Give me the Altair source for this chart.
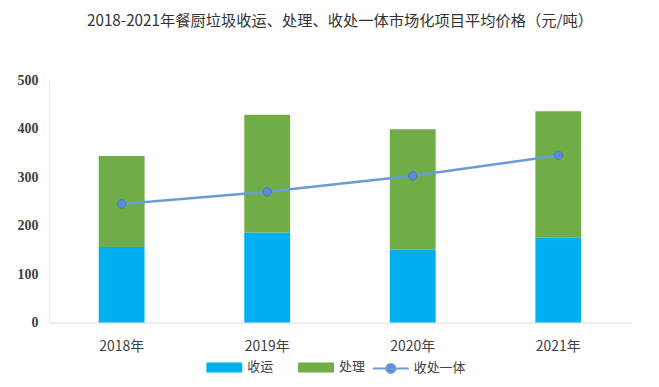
import altair as alt
import pandas as pd

years = ["2018年", "2019年", "2020年", "2021年"]
shouyun = [156, 186, 151, 175]
chuli = [188, 243, 248, 261]
yiti = [245, 270, 303, 345]
bar_series = ["收运", "处理"]
line_series = ["收处一体"]
y_ticks = [0, 100, 200, 300, 400, 500]
title_text = "2018-2021年餐厨垃圾收运、处理、收处一体市场化项目平均价格（元/吨）"

rows = []
for i, yr in enumerate(years):
    rows.append({"year": yr, "series": bar_series[0], "value": shouyun[i], "ord": 0})
    rows.append({"year": yr, "series": bar_series[1], "value": chuli[i], "ord": 1})
bars_df = pd.DataFrame(rows)
line_df = pd.DataFrame({"year": years, "series": line_series[0], "value": yiti})

FONT = "Noto Sans CJK SC"
SERIF = "Liberation Serif, Times New Roman, serif"

x_enc = alt.X(
    "year:N", sort=years, title=None,
    scale=alt.Scale(paddingInner=0.685, paddingOuter=0.3425),
    axis=alt.Axis(labelAngle=0, domainColor="#d9d9d9", domainWidth=1, ticks=False,
                  labelPadding=17, labelFontSize=14, labelFont=FONT, labelColor="#404040"),
)
y_axis = alt.Axis(values=y_ticks, grid=False, ticks=False, domainColor="#ececec",
                  labelFont=SERIF, labelFontWeight="bold", labelFontSize=14,
                  labelColor="#404040", labelPadding=11)

bars = alt.Chart(bars_df).mark_bar().encode(
    x=x_enc,
    y=alt.Y("value:Q", title=None, stack="zero", scale=alt.Scale(domain=[0, 500]), axis=y_axis),
    color=alt.Color(
        "series:N",
        scale=alt.Scale(domain=bar_series, range=["#00B0F0", "#70AD47"]),
        legend=alt.Legend(
            title=None, orient="none", legendX=166, legendY=278, direction="horizontal",
            symbolType="M-1.8,-0.5H1.8V0.5H-1.8Z", symbolSize=400, symbolStrokeWidth=0,
            labelOffset=13, columnPadding=24, labelFontSize=13, labelFont=FONT,
            labelColor="#404040", padding=0,
        ),
    ),
    order=alt.Order("ord:Q"),
)

line = alt.Chart(line_df).mark_line(color="#6A9BD8", strokeWidth=2.5).encode(
    x=alt.X("year:N", sort=years),
    y=alt.Y("value:Q"),
)

points = alt.Chart(line_df).mark_point(filled=True, size=75, opacity=1, stroke="#4A7EBB", strokeWidth=1).encode(
    x=alt.X("year:N", sort=years),
    y=alt.Y("value:Q"),
    color=alt.Color(
        "series:N",
        scale=alt.Scale(domain=line_series, range=["#5B8BD4"]),
        legend=alt.Legend(
            title=None, orient="none", legendX=332, legendY=278, direction="horizontal",
            symbolType="M-1.8,0H1.8M-0.45,0A0.45,0.45,0,1,0,0.45,0A0.45,0.45,0,1,0,-0.45,0Z",
            symbolSize=400, symbolStrokeWidth=2, symbolStrokeColor="#6A9BD8",
            labelOffset=12, labelFontSize=13, labelFont=FONT, labelColor="#404040", padding=0,
        ),
    ),
)

chart = alt.layer(bars, line, points).resolve_scale(color="independent").properties(
    width=584, height=243,
    autosize=alt.AutoSizeParams(type="none"),
    padding={"left": 41, "top": 72, "right": 20, "bottom": 55},
    title=alt.TitleParams(title_text, font=FONT, fontSize=15.3, fontWeight="normal",
                          color="#333333", anchor="middle", offset=44),
).configure_view(stroke=None)

chart.save("out.html", embed_options={"renderer": "svg", "actions": False})
